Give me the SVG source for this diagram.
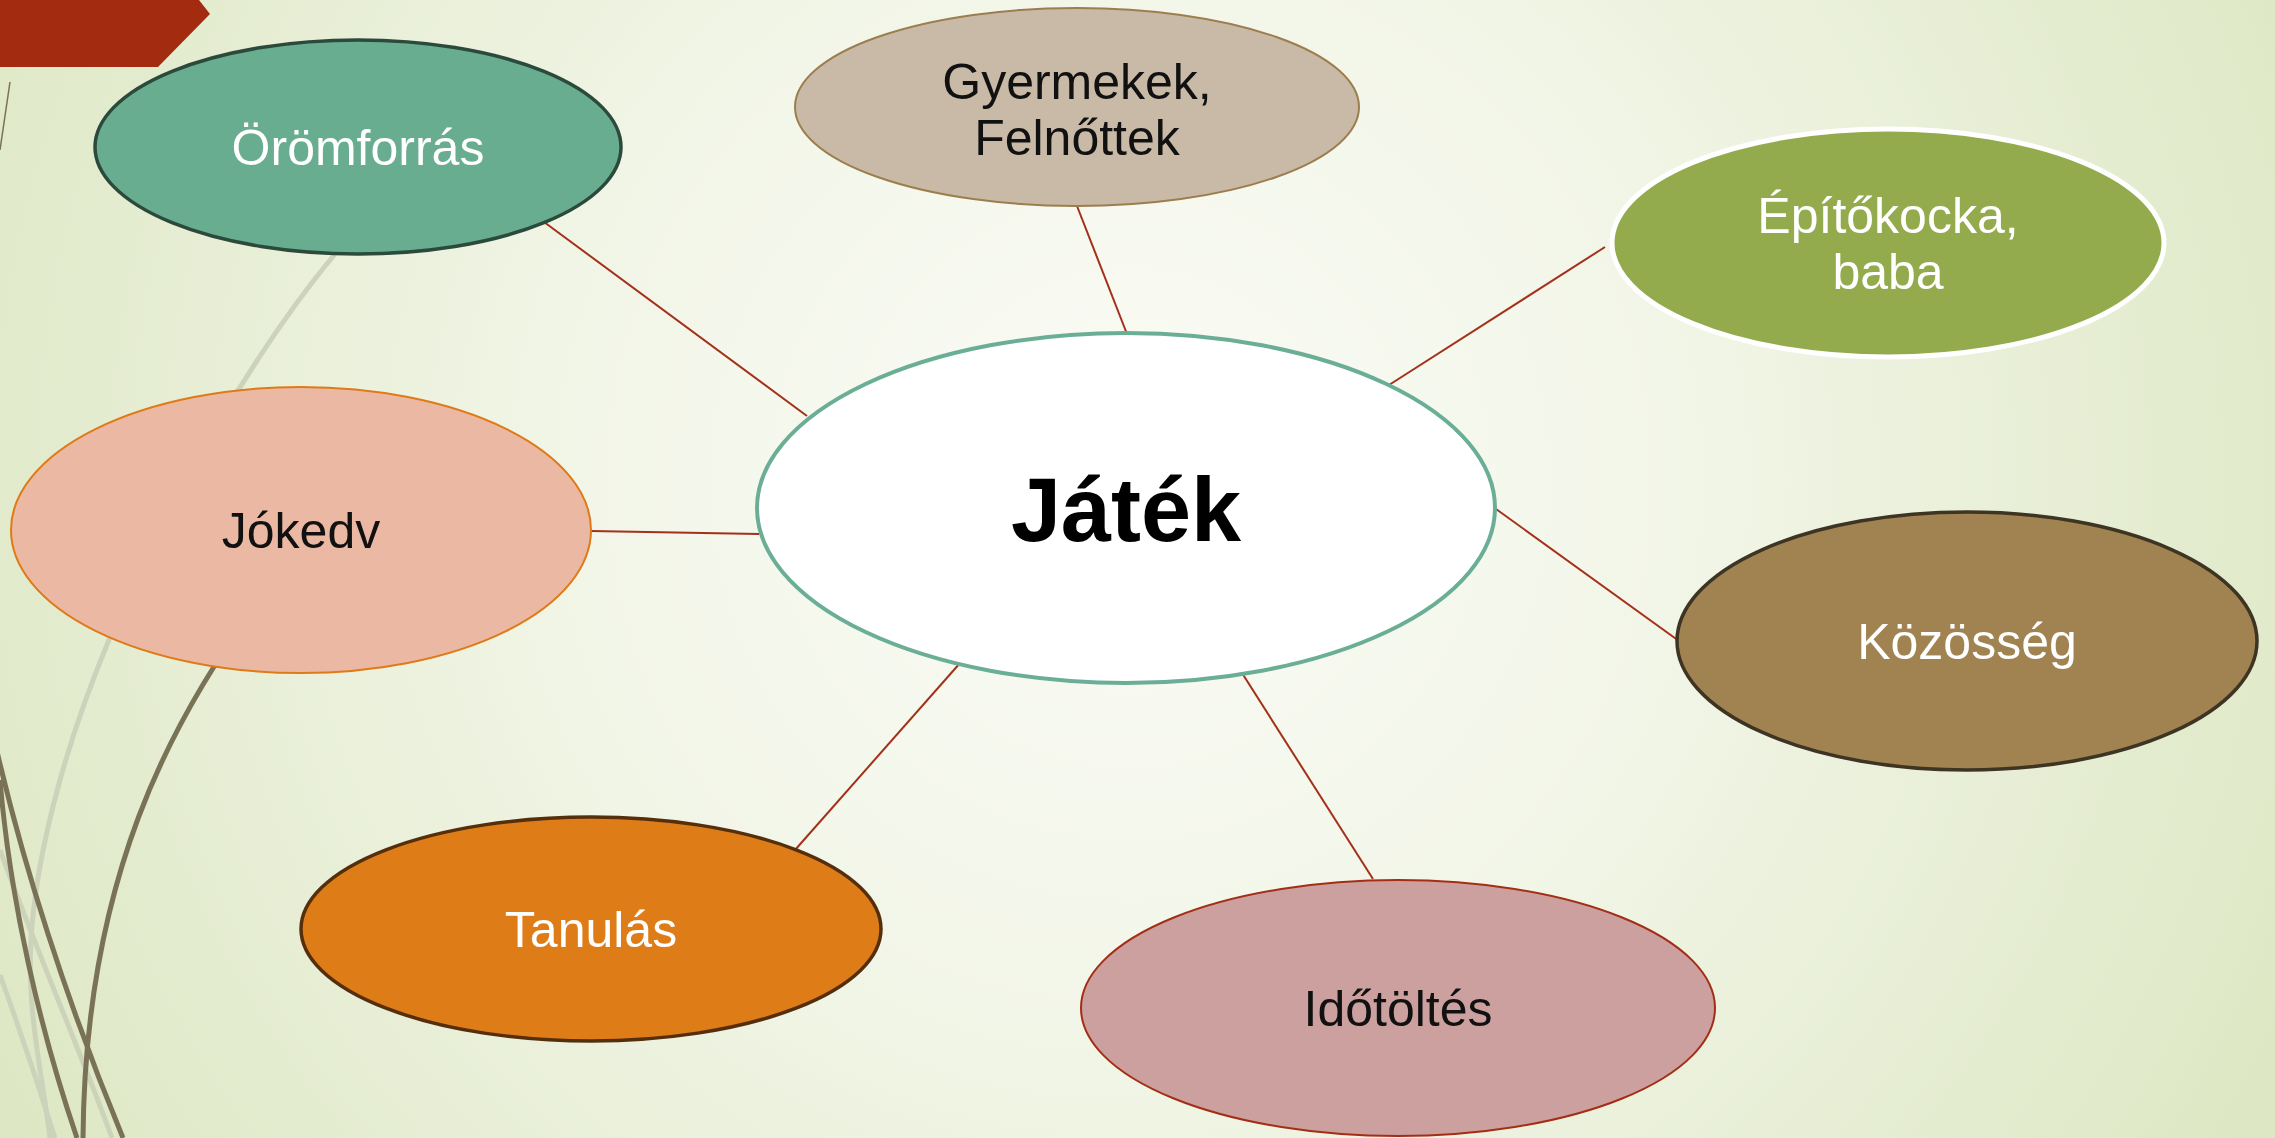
<svg xmlns="http://www.w3.org/2000/svg" width="2275" height="1138" viewBox="0 0 2275 1138">
<defs>
<radialGradient id="bg" gradientUnits="userSpaceOnUse" cx="1130" cy="480" r="1300">
<stop offset="0" stop-color="#FBFCF7"/>
<stop offset="0.45" stop-color="#F1F5E6"/>
<stop offset="1" stop-color="#DDE7C3"/>
</radialGradient>
<style>
.lbl{font-family:"Liberation Sans",Arial,sans-serif;font-size:50px;text-anchor:middle}
.w{fill:#FFFFFF}
.b{fill:#111111}
.conn{stroke:#A3301A;stroke-width:2;fill:none}
.dk{stroke:#7A7256;stroke-width:5;fill:none}
.lt{stroke:#CDD3BA;stroke-width:5;fill:none}
</style>
</defs>
<rect x="0" y="0" width="2275" height="1138" fill="url(#bg)"/>
<g id="decor">
<polygon points="0,0 199,0 210,14 158,67 0,67" fill="#A32C10"/>
<line x1="10" y1="82" x2="0" y2="150" stroke="#7A7256" stroke-width="1.5"/>
<path class="lt" d="M335,254 C230,380 110,600 60,780 S35,1020 50,1138"/>
<path class="lt" d="M0,850 C40,960 80,1050 112,1138"/>
<path class="lt" d="M0,975 C20,1030 40,1090 55,1138"/>
<path class="dk" d="M260,600 C170,720 85,880 83,1138"/>
<path class="dk" d="M-10,720 C20,860 70,1010 123,1138"/>
<path class="dk" d="M0,780 C10,900 40,1030 77,1138"/>
</g>
<g id="connectors">
<line class="conn" x1="544" y1="222" x2="807" y2="416"/>
<line class="conn" x1="1077" y1="206" x2="1127" y2="334"/>
<line class="conn" x1="1605" y1="247" x2="1389" y2="385"/>
<line class="conn" x1="1496" y1="509" x2="1679" y2="641"/>
<line class="conn" x1="1242" y1="673" x2="1373" y2="879"/>
<line class="conn" x1="968" y1="654" x2="795" y2="850"/>
<line class="conn" x1="591" y1="531" x2="759" y2="534"/>
</g>
<g id="node-oromforras">
<ellipse cx="358" cy="147" rx="263" ry="107" fill="#69AD90" stroke="#2B4A3C" stroke-width="3.5"/>
<text class="lbl w" x="358" y="165">Örömforrás</text>
</g>
<g id="node-gyermekek">
<ellipse cx="1077" cy="107" rx="282" ry="99" fill="#C9BAA8" stroke="#9C7E4E" stroke-width="2"/>
<text class="lbl b" x="1077" y="99">Gyermekek,</text>
<text class="lbl b" x="1077" y="155">Felnőttek</text>
</g>
<g id="node-epitokocka">
<ellipse cx="1888" cy="243" rx="276" ry="114" fill="#94AB4D" stroke="#FFFFFF" stroke-width="5"/>
<text class="lbl w" x="1888" y="233">Építőkocka,</text>
<text class="lbl w" x="1888" y="289">baba</text>
</g>
<g id="node-kozosseg">
<ellipse cx="1967" cy="641" rx="290" ry="129" fill="#A08351" stroke="#3E3423" stroke-width="3.5"/>
<text class="lbl w" x="1967" y="659">Közösség</text>
</g>
<g id="node-idotoltes">
<ellipse cx="1398" cy="1008" rx="317" ry="128" fill="#CCA09F" stroke="#A32E16" stroke-width="2"/>
<text class="lbl b" x="1398" y="1026">Időtöltés</text>
</g>
<g id="node-tanulas">
<ellipse cx="591" cy="929" rx="290" ry="112" fill="#DE7D18" stroke="#552E0C" stroke-width="3.5"/>
<text class="lbl w" x="591" y="947">Tanulás</text>
</g>
<g id="node-jokedv">
<ellipse cx="301" cy="530" rx="290" ry="143" fill="#EBB9A3" stroke="#DF7A18" stroke-width="2"/>
<text class="lbl b" x="301" y="548">Jókedv</text>
</g>
<g id="node-jatek">
<ellipse cx="1126" cy="508" rx="369" ry="175" fill="#FFFFFF" stroke="#6BAE96" stroke-width="4"/>
<text x="1126" y="541" font-family="'Liberation Sans',Arial,sans-serif" font-size="90" font-weight="bold" text-anchor="middle" fill="#000000">Játék</text>
</g>
</svg>
